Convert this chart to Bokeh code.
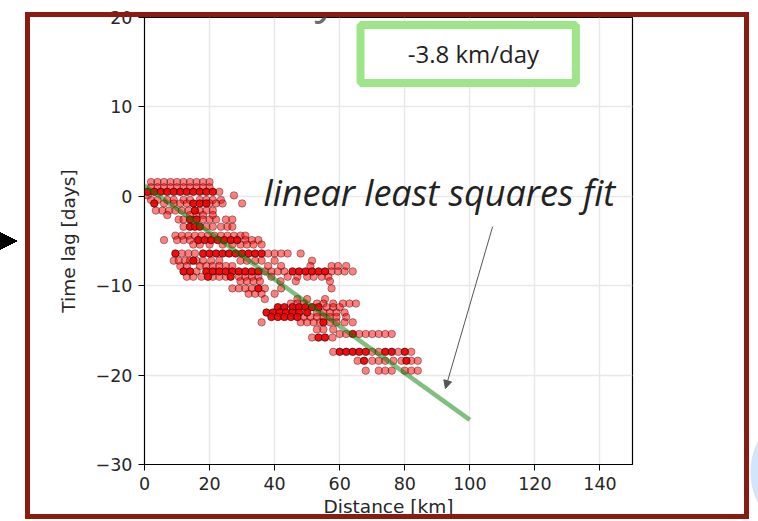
from bokeh.plotting import figure
from bokeh.models import (BoxAnnotation, Label, Arrow, NormalHead, FixedTicker, Range1d,
                          ColumnDataSource, InlineStyleSheet)
from bokeh.embed import file_html
from bokeh.resources import INLINE

# ---------------- data ----------------
# time lag of each row of measurements [days]
LAG_ROWS = [1.6, 1.0, 0.5, 0.1, -0.4, -0.8, -1.6, -2.1, -2.6, -3.4, -4.4, -4.9, -5.4,
            -6.4, -7.2, -7.8, -8.4, -9.0, -9.5, -10.3, -10.9, -11.5, -12.0, -12.4,
            -13.0, -13.5, -14.1, -14.9, -15.4, -15.8, -17.4, -18.4, -19.5]
# distances of single (sparse) measurements in each row [km]
LIGHT_ROWS = [
    [2, 4, 6, 8, 10, 12, 14, 16, 18, 20],
    [2, 4, 6, 8, 10, 12, 14, 16, 18, 20],
    [23],
    [1, 27.5],
    [2, 4, 7, 9, 12, 14, 17, 19, 21, 23.5],
    [6, 9, 11, 13, 20, 22, 24, 30],
    [3.5, 5.5, 7.5, 9.5, 11.5, 13.5, 17, 19, 21],
    [7, 14, 16, 18, 21],
    [10.5, 12, 18, 20, 22, 25, 27],
    [12, 19, 21, 23.5, 25.5, 27],
    [9.5, 11.5, 13.5, 15.5, 17.5, 19.5, 21.5, 23.5, 25.5, 27.5, 29.5, 31],
    [6, 10, 12, 14, 31, 33, 35],
    [15, 17, 20, 24, 27, 29.5, 31.5, 33.5, 36],
    [11.5, 13.5, 15.5, 38, 40, 42, 44, 48],
    [9, 10.5, 12.5, 14, 16, 18, 20.5, 23, 29.5, 31.5, 34, 36, 40, 51.5],
    [11, 13, 17, 19, 21, 23, 25, 27, 38, 42, 51, 57.5, 59.5, 62],
    [16, 37, 39, 41, 43, 57.5, 59.5, 61.5, 64],
    [13, 15, 17.5, 21, 23, 25, 29, 31, 33, 35, 39, 44, 47, 50, 52, 54.5, 56.5],
    [29.5, 31.5, 33.5, 35.5, 41.8, 46.5, 57],
    [27, 29, 31, 33, 37, 42, 57.5],
    [32, 34, 36, 40],
    [37, 47, 50, 55.5],
    [45, 47, 49, 53, 55, 58, 61, 63, 65],
    [56, 58, 60],
    [53, 55, 57, 59, 61.5],
    [49, 51, 53, 55, 57, 59, 62],
    [36, 48, 50, 52, 54, 57, 59, 61.5, 64],
    [53, 55, 58],
    [60, 62, 66, 68, 70, 72, 74, 76],
    [51.5, 57.8],
    [58, 70, 72, 78, 82],
    [65.5, 70, 72, 74, 76.5, 79, 82, 84],
    [68, 72, 74, 76, 80, 82, 84],
]
# distances of repeated (overlapping, darker) measurements in each row [km]
DENSE_ROWS = [
    [],
    [],
    [1, 3, 5, 7, 9, 11, 13, 15, 17, 19, 21],
    [],
    [],
    [3, 15, 17, 19],
    [15.5],
    [],
    [14, 16],
    [14, 15.5, 17],
    [],
    [16.5, 18.5, 20.5, 22.5, 24.5, 26.5, 28.5],
    [],
    [9.5, 18, 20, 22, 24, 26, 28, 30, 32, 34, 36],
    [15],
    [],
    [12, 14, 19, 21, 23, 25, 27, 29, 31, 33, 35, 45.5, 47.5, 49.5, 51.5, 53.5, 55.5],
    [19.5, 26.5],
    [],
    [35],
    [],
    [],
    [],
    [41, 43, 45.5, 47.5, 49.5, 51.5, 53.5],
    [37.5, 39.5, 41.5, 43.5, 45.5, 47.5, 50],
    [39, 41, 43, 45, 47],
    [55],
    [],
    [64],
    [53.5, 55.5],
    [60, 62, 64, 66, 68, 74, 76, 80],
    [67.5, 80.5],
    [],
]
# linear least squares fit (end points)
FIT_X = [0, 100]
FIT_Y = [1.2, -25.0]
SLOPE_TEXT = "-3.8 km/day"

X_TICKS = [0, 20, 40, 60, 80, 100, 120, 140]
Y_TICKS = [-30, -20, -10, 0, 10, 20]

light_x, light_y, dense_x, dense_y = [], [], [], []
for lag, lr, dr in zip(LAG_ROWS, LIGHT_ROWS, DENSE_ROWS):
    light_x += lr
    light_y += [lag] * len(lr)
    dense_x += dr
    dense_y += [lag] * len(dr)

# ---------------- figure ----------------
p = figure(width=758, height=521, x_range=Range1d(0, 150), y_range=Range1d(-30, 20),
           output_backend="svg", toolbar_location=None,
           min_border_left=144, min_border_right=126, min_border_top=17, min_border_bottom=57)
p.background_fill_color = "white"
p.border_fill_color = "white"
p.outline_line_color = "black"
p.outline_line_width = 1.2

p.xaxis.ticker = FixedTicker(ticks=X_TICKS)
p.yaxis.ticker = FixedTicker(ticks=Y_TICKS)
p.yaxis.major_label_overrides = {t: ("\u2212" + str(-t) if t < 0 else str(t)) for t in Y_TICKS}
for ax in (p.xaxis[0], p.yaxis[0]):
    ax.major_label_text_font = "DejaVu Sans"
    ax.major_label_text_font_size = "17.5px"
    ax.major_label_text_color = "#262626"
    ax.major_tick_out = 6
    ax.major_tick_in = 0
    ax.major_tick_line_color = "black"
    ax.minor_tick_line_color = None
    ax.axis_line_color = "black"
    ax.major_label_standoff = 6
    ax.axis_label_text_font = "DejaVu Sans"
    ax.axis_label_text_font_size = "18.5px"
    ax.axis_label_text_font_style = "normal"
    ax.axis_label_text_color = "#262626"
p.yaxis.axis_label = "Time lag [days]"
p.yaxis.axis_label_standoff = 14
p.xaxis.axis_label = "Distance [km]"
p.xaxis.axis_label_standoff = 3

p.xgrid.grid_line_color = "#e8e8e8"
p.ygrid.grid_line_color = "#e8e8e8"
p.xgrid.grid_line_width = 1.5
p.ygrid.grid_line_width = 1.5

src_l = ColumnDataSource(dict(x=light_x, y=light_y))
src_d = ColumnDataSource(dict(x=dense_x, y=dense_y))
p.scatter("x", "y", source=src_l, size=7.5, fill_color="red", fill_alpha=0.5,
          line_color="black", line_alpha=0.45, line_width=0.8)
p.scatter("x", "y", source=src_d, size=7.5, fill_color="#ee0000", fill_alpha=0.95,
          line_color="black", line_alpha=0.7, line_width=0.8)
p.line(FIT_X, FIT_Y, line_color="green", line_alpha=0.5, line_width=4.5)

# slope box
p.add_layout(BoxAnnotation(left=66.4, right=132.6, top=19.16, bottom=12.67,
                           fill_color="white", fill_alpha=1.0,
                           line_color="#9ee58a", line_alpha=1.0, line_width=8))
p.add_layout(Label(x=101.1, y=15.97, text=SLOPE_TEXT, text_align="center",
                   text_baseline="middle", text_font="Open Sans",
                   text_font_size="24px", text_color="#222222"))

# annotation text + arrow
p.add_layout(Label(x=36.6, y=0.46, text="linear least squares fit",
                   text_font="Open Sans", text_font_style="italic",
                   text_font_size="36px", text_color="#222222",
                   text_baseline="middle"))
p.add_layout(Arrow(x_start=107.0, y_start=-3.4, x_end=92.5, y_end=-21.5,
                   line_color="#555555", line_width=1,
                   end=NormalHead(size=8, fill_color="#555555", line_color="#555555")))

# slide title (cut off at the top, as in the reference)
p.add_layout(Label(x=74.4, y=25.83, text="Time delay measurements", text_align="center",
                   text_baseline="top", text_font="Open Sans",
                   text_font_style="italic", text_font_size="45px", text_color="#6e6e6e"))

# slide decorations: frame, pointer triangle at the left, edge of a round shape at the right
p.stylesheets = [InlineStyleSheet(css="""
:host::after {
  content: ""; position: absolute; left: 0; top: 0; width: 758px; height: 521px;
  pointer-events: none; z-index: 100;
  background-image:
    linear-gradient(#8b1a10, #8b1a10),
    linear-gradient(#8b1a10, #8b1a10),
    linear-gradient(#8b1a10, #8b1a10),
    linear-gradient(#8b1a10, #8b1a10),
    linear-gradient(to bottom left, rgba(0,0,0,0) 50%, #000 50%),
    linear-gradient(to top left, rgba(0,0,0,0) 50%, #000 50%),
    radial-gradient(circle 68px at 68px 32px, #d2e5fa 67px, rgba(210,229,250,0) 68px);
  background-position: 25px 12px, 25px 514px, 25px 12px, 744px 12px,
    0 232px, 0 241px, 750px 440px;
  background-size: 724px 5px, 724px 5px, 5px 507px, 5px 507px,
    18px 9px, 18px 9px, 8px 64px;
  background-repeat: no-repeat;
}
""")]

open("out.html", "w").write(file_html(p, INLINE))
